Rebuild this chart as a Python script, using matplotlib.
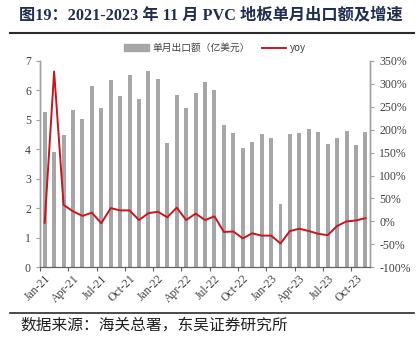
import numpy as np
import matplotlib.pyplot as plt
from matplotlib.lines import Line2D
from matplotlib.ticker import FuncFormatter

plt.rcParams['font.family'] = ['Liberation Serif', 'Noto Sans CJK SC', 'DejaVu Sans']

# 月份
months = ['Jan-21', 'Feb-21', 'Mar-21', 'Apr-21', 'May-21', 'Jun-21', 'Jul-21', 'Aug-21',
          'Sep-21', 'Oct-21', 'Nov-21', 'Dec-21', 'Jan-22', 'Feb-22', 'Mar-22', 'Apr-22',
          'May-22', 'Jun-22', 'Jul-22', 'Aug-22', 'Sep-22', 'Oct-22', 'Nov-22', 'Dec-22',
          'Jan-23', 'Feb-23', 'Mar-23', 'Apr-23', 'May-23', 'Jun-23', 'Jul-23', 'Aug-23',
          'Sep-23', 'Oct-23', 'Nov-23']
# 单月出口额（亿美元）
export_amt = [5.27, 3.91, 4.48, 5.33, 5.04, 6.14, 5.39, 6.36, 5.81, 6.51, 5.70, 6.66,
              6.38, 4.21, 5.84, 5.42, 5.91, 6.29, 6.03, 4.82, 4.56, 4.05, 4.24, 4.53,
              4.39, 2.16, 4.52, 4.57, 4.69, 4.59, 4.18, 4.39, 4.61, 4.15, 4.59]
# 同比增速（%）
yoy = [-3, 327, 36, 22, 12, 19, -4, 29, 24, 24, 3, 18,
       21, 9, 30, 3, 17, 3, 11, -23, -22, -37, -26, -31,
       -31, -48, -21, -16, -21, -27, -30, -10, 0, 2, 7]

bar_color = '#A6A6A6'
line_color = '#C8161E'
navy = '#1F2D4E'
text_gray = '#404040'
spine_gray = '#A0A0A0'

fig = plt.figure(figsize=(4.2, 3.37), dpi=100)
ax = fig.add_axes([0.0952, 0.207, 0.786, 0.612])
ax2 = ax.twinx()

x = np.arange(len(months))
bars = ax.bar(x, export_amt, width=0.42, color=bar_color, zorder=2)
ax2.plot(x, yoy, color=line_color, lw=1.4, zorder=3)

ax.set_xlim(-0.5, len(months) - 0.5)
ax.set_ylim(0, 7)
ax.set_yticks(range(0, 8))
ax2.set_ylim(-100, 350)
ax2.set_yticks(range(-100, 351, 50))
ax2.yaxis.set_major_formatter(FuncFormatter(lambda v, p: f'{int(v)}%'))

# 刻度线画在分类边界，标签放在分类中心
ax.set_xticks(np.arange(0, len(months), 3) - 0.5)
ax.set_xticklabels([])
ax.set_xticks(np.arange(0, len(months), 3), minor=True)
ax.set_xticklabels(months[::3], minor=True, rotation=45, ha='right',
                   rotation_mode='anchor', fontsize=8.5, color=text_gray)
ax.tick_params(axis='x', which='minor', length=0, pad=4)
ax.tick_params(axis='x', which='major', length=3, color='#606060', direction='out')
ax.tick_params(axis='y', labelsize=8.5, labelcolor=text_gray, length=3, color=spine_gray)
ax2.tick_params(axis='y', labelsize=8.5, labelcolor=text_gray, length=3, color=spine_gray)

for a in (ax, ax2):
    a.spines['top'].set_visible(False)
    a.spines['left'].set_color(spine_gray)
    a.spines['right'].set_color(spine_gray)
    a.spines['bottom'].set_color('#606060')
    a.spines['left'].set_linewidth(1.0)
    a.spines['right'].set_linewidth(1.0)

handles = [plt.Rectangle((0, 0), 1, 1, color=bar_color),
           Line2D([0], [0], color=line_color, lw=1.4)]
fig.legend(handles, ['单月出口额（亿美元）', 'yoy'], loc='center', ncol=2,
           bbox_to_anchor=(0.512, 0.857), frameon=False,
           handlelength=2.5, handletextpad=0.4, columnspacing=1.2, labelcolor=text_gray,
           prop={'family': ['Noto Sans CJK SC'], 'size': 7})

# 标题、分隔线和资料来源
fig.text(0.045, 0.955, '图19：2021-2023 年 11 月 PVC 地板单月出口额及增速',
         fontsize=11.7, fontweight='bold', color=navy, va='center', ha='left')
fig.add_artist(Line2D([0.024, 0.985], [0.903, 0.903], color='#2B2B2B', lw=1.5))
fig.add_artist(Line2D([0.024, 0.985], [0.072, 0.072], color='#2B2B2B', lw=1.2))
fig.text(0.048, 0.035, '数据来源：海关总署，东吴证券研究所', fontsize=11.3,
         color='#202020', va='center', ha='left', family=['Noto Sans CJK SC'])

fig.savefig('out.png', dpi=100)
